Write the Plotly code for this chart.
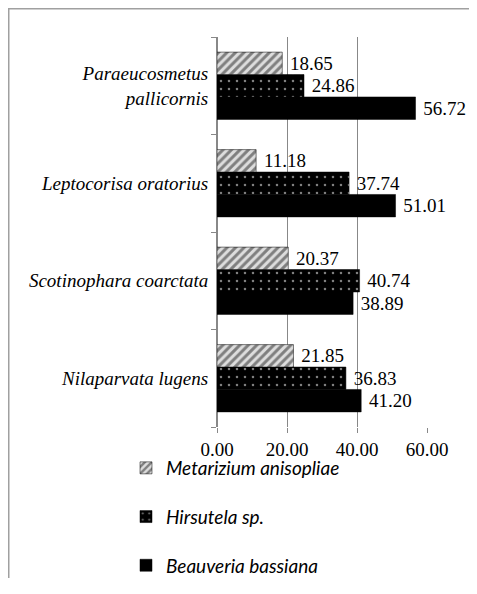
import plotly.graph_objects as go

categories = ["Nilaparvata lugens", "Scotinophara coarctata", "Leptocorisa oratorius",
              "Paraeucosmetus<br>pallicornis"]
beauveria = [41.20, 38.89, 51.01, 56.72]
hirsutela = [36.83, 40.74, 37.74, 24.86]
metarizium = [21.85, 20.37, 11.18, 18.65]
x_ticks = [0, 20, 40, 60]
x_tick_labels = ["0.00", "20.00", "40.00", "60.00"]

# the page body adds an 8px margin, so the figure is drawn smaller to avoid scrollbars
W, H = 469, 570
L, R, T, B = 209, 50, 29, 151
serif = "Liberation Serif"
label_font = dict(family=serif, size=19, color="#000")

fig = go.Figure()
series = [
    ("Beauveria bassiana", beauveria, 3, dict(color="#000000")),
    ("Hirsutela sp.", hirsutela, 2, dict(color="#000000",
                                          pattern=dict(shape=".", fgcolor="#ffffff", bgcolor="#000000",
                                                       size=8, solidity=0.08))),
    ("Metarizium anisopliae", metarizium, 1, dict(color="#444444",
                                                  pattern=dict(shape="/", fgcolor="#222222", bgcolor="#dddddd",
                                                               size=6, solidity=0.5))),
]
for name, vals, rank, mk in series:
    fig.add_trace(go.Bar(
        name=name, y=categories, x=vals, orientation="h",
        marker=dict(line=dict(color="#000", width=0.5), **mk),
        text=[f"\u00a0{v:.2f}" for v in vals], textposition="outside",
        textfont=label_font, cliponaxis=False, constraintext="none",
        legendgroup=name, legendrank=rank,
    ))

pw = W - L - R
ph = H - T - B
def px_x(p):
    return (p - L) / pw
def px_y(p):
    return (H - B - p) / ph

fig.add_shape(type="rect", xref="paper", yref="paper",
              x0=px_x(0.75), x1=px_x(W + 20), y0=px_y(H + 20), y1=px_y(0.75),
              line=dict(color="#a0a0a0", width=1.5), fillcolor="rgba(0,0,0,0)", layer="below")

fig.update_layout(
    width=W, height=H,
    margin=dict(l=L, r=R, t=T, b=B, autoexpand=False),
    paper_bgcolor="white", plot_bgcolor="white",
    barmode="group", bargap=0.31, bargroupgap=0,
    showlegend=True,
    legend=dict(traceorder="grouped", orientation="v",
                xref="container", yref="container",
                x=118 / W, xanchor="left", y=1 - 441 / H, yanchor="top",
                font=dict(family="Lato", size=19, style="italic", color="#000"),
                tracegroupgap=21, bgcolor="rgba(0,0,0,0)"),
    xaxis=dict(range=[0, 60], tickvals=x_ticks, ticktext=x_tick_labels,
               showgrid=True, gridcolor="#888888", gridwidth=1,
               showline=False, zeroline=True, zerolinecolor="#888888", zerolinewidth=1,
               ticks="outside", ticklen=5, tickcolor="#888888", automargin=False,
               tickfont=dict(family=serif, size=19, color="#000")),
    yaxis=dict(showgrid=False, showline=True, linecolor="#888888", linewidth=1,
               ticks="outside", ticklen=5, tickcolor="#888888", tickson="boundaries",
               ticklabelstandoff=4, automargin=False,
               tickfont=dict(family=serif, size=19, style="italic", color="#000")),
)
fig.write_html("out.html")
